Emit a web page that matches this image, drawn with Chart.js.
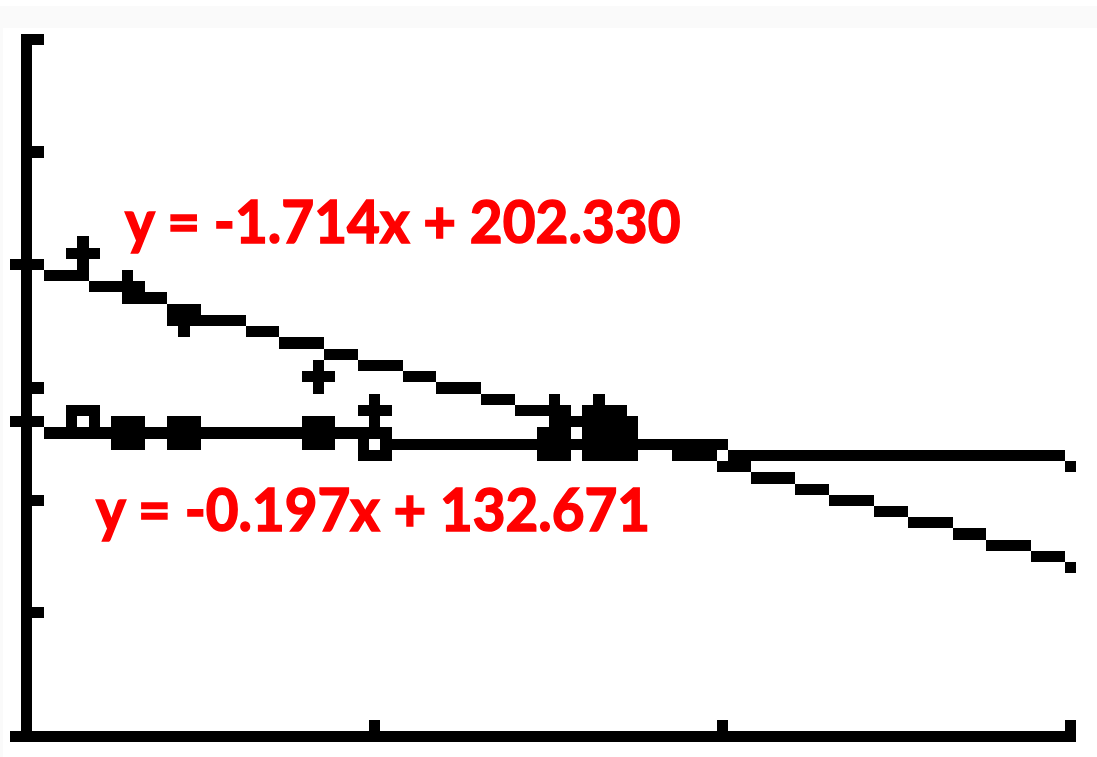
<!DOCTYPE html>
<html>
<head>
<meta charset="utf-8">
<title>Regression lines</title>
<script src="https://cdn.jsdelivr.net/npm/chart.js@4.4.1/dist/chart.umd.min.js"></script>
<style>
  html, body { margin: 0; padding: 0; background: #ffffff; }
  body { position: relative; width: 1097px; height: 757px; overflow: hidden; }
  #band { position: absolute; left: 0; top: 6px; width: 1097px; height: 22px; background: #fafafa; }
  #strip { position: absolute; left: 0; top: 28px; width: 3px; height: 729px; background: #fafafa; }
  #screen { position: absolute; left: 10px; top: 34px; image-rendering: pixelated; }
  .eq {
    position: absolute; left: 0; top: 0;
    color: #ff0000; font-family: Lato, "Open Sans", sans-serif; font-weight: 700;
    font-size: 59px; line-height: 1; white-space: pre; transform-origin: 0 0;
    -webkit-text-stroke: 1.6px #ff0000;
  }
</style>
</head>
<body>
<div id="band"></div>
<div id="strip"></div>
<canvas id="screen" width="95" height="63"></canvas>
<div class="eq" id="eq0"></div>
<div class="eq" id="eq1"></div>
<script>
// Axis ticks (x scale 25, y scale 50)
const xTicks = [0, 25, 50, 75];
const yTicks = [0, 50, 100, 150, 200, 250, 300];

// Paired measurements: one x list, two y lists
const xValues = [4, 7, 11, 21, 25, 38, 41, 43];
const crossY  = [208, 193, 178, 154, 140, 140, 140, 135];
const boxY    = [135, 130, 130, 130, 125, 125, 125, 125];

// Least-squares fits shown as equations
const slopes     = [-1.714, -0.197];
const intercepts = [202.330, 132.671];

// Graph window: 95 x 63 screen pixels, y-axis on column 1, x-axis on the bottom row
const SCREEN_W = 95, SCREEN_H = 63, PIXEL_W = 11.22, PIXEL_H = 11.24;
const xStep = 25 / 31;          // x units per screen pixel
const yStep = 300 / 62;         // y units per screen pixel
const ROW_BIAS = 0.13;          // rounding used when plotting into rows

const pixelScreen = {
  id: 'pixelScreen',
  beforeDraw(chart) {
    const ctx = chart.ctx;
    ctx.save();
    ctx.fillStyle = '#ffffff';
    ctx.fillRect(0, 0, chart.width, chart.height);
    ctx.restore();
  },
  afterDatasetsDraw(chart) {
    const ctx = chart.ctx;
    const xs = chart.scales.x, ys = chart.scales.y;
    const cols = chart.width, rows = chart.height;
    ctx.save();
    ctx.fillStyle = '#000000';
    const dot = (c, r) => { if (c >= 0 && c < cols && r >= 0 && r < rows) ctx.fillRect(c, r, 1, 1); };

    // axes through the origin
    const ax = Math.floor(xs.getPixelForValue(0));
    const ay = Math.floor(ys.getPixelForValue(0));
    for (let r = 0; r < rows; r++) dot(ax, r);
    for (let c = 0; c < cols; c++) dot(c, ay);

    // one-pixel tick marks inside the axes
    xTicks.forEach(v => dot(Math.floor(xs.getPixelForValue(v) - 0.5 + 1e-6), ay - 1));
    yTicks.forEach(v => dot(ax + 1, Math.floor(ys.getPixelForValue(v) - 0.5 + 1e-6)));

    // regression lines, one plotted pixel per column, joined vertically when needed
    slopes.forEach((m, i) => {
      let prev = null;
      for (let c = 0; c < cols; c++) {
        const xv = xs.getValueForPixel(c + 0.5);
        const r = Math.floor(ys.getPixelForValue(m * xv + intercepts[i]) - ROW_BIAS);
        if (prev !== null && Math.abs(r - prev) > 1) {
          const step = r > prev ? 1 : -1;
          for (let k = prev + step; k !== r; k += step) dot(c, k);
        }
        dot(c, r);
        prev = r;
      }
    });

    // stat-plot marks: '+' cross and hollow box
    chart.data.datasets.forEach((ds, i) => {
      const meta = chart.getDatasetMeta(i);
      meta.data.forEach(pt => {
        const c = Math.floor(pt.x), r = Math.floor(pt.y - ROW_BIAS);
        if (ds.mark === 'cross') {
          dot(c, r); dot(c - 1, r); dot(c + 1, r); dot(c, r - 1); dot(c, r + 1);
        } else {
          for (let dc = -1; dc <= 1; dc++) {
            for (let dr = -1; dr <= 1; dr++) {
              if (dc !== 0 || dr !== 0) dot(c + dc, r + dr);
            }
          }
        }
      });
    });
    ctx.restore();
  }
};

const canvas = document.getElementById('screen');
const chart = new Chart(canvas, {
  type: 'scatter',
  data: {
    datasets: [
      { label: 'cross', mark: 'cross', data: xValues.map((x, i) => ({ x, y: crossY[i] })) },
      { label: 'box',   mark: 'box',   data: xValues.map((x, i) => ({ x, y: boxY[i] })) }
    ]
  },
  options: {
    responsive: false,
    animation: false,
    devicePixelRatio: 1,
    events: [],
    layout: { padding: 0 },
    elements: { point: { radius: 0, hoverRadius: 0 } },
    plugins: { legend: { display: false }, tooltip: { enabled: false } },
    scales: {
      x: { type: 'linear', display: false, min: -1.5 * xStep, max: 93.5 * xStep },
      y: { type: 'linear', display: false, min: -0.5 * yStep, max: 62.5 * yStep }
    }
  },
  plugins: [pixelScreen]
});
canvas.style.width = (SCREEN_W * PIXEL_W) + 'px';
canvas.style.height = (SCREEN_H * PIXEL_H) + 'px';

// equation labels: [left, baseline, right]
const labelBoxes = [[124.5, 243, 680], [96, 531, 650]];

function placeLabel(el, text, left, baseline, right) {
  el.textContent = '';
  el.style.transform = 'none';
  el.style.left = left + 'px';
  el.style.top = '0px';
  const span = document.createElement('span');
  span.textContent = text;
  const mark = document.createElement('span');
  mark.style.cssText = 'display:inline-block;width:0;height:0;vertical-align:baseline';
  el.append(span, mark);
  const base = mark.getBoundingClientRect().top;
  const w = span.getBoundingClientRect().width;
  el.style.top = (baseline - base) + 'px';
  el.style.transform = 'scaleX(' + ((right - left) / w) + ')';
}

function drawLabels() {
  slopes.forEach((m, i) => {
    const text = 'y = ' + m.toFixed(3) + 'x + ' + intercepts[i].toFixed(3);
    const [l, b, r] = labelBoxes[i];
    placeLabel(document.getElementById('eq' + i), text, l, b, r);
  });
}
drawLabels();
if (document.fonts && document.fonts.ready) document.fonts.ready.then(drawLabels);
</script>
</body>
</html>
